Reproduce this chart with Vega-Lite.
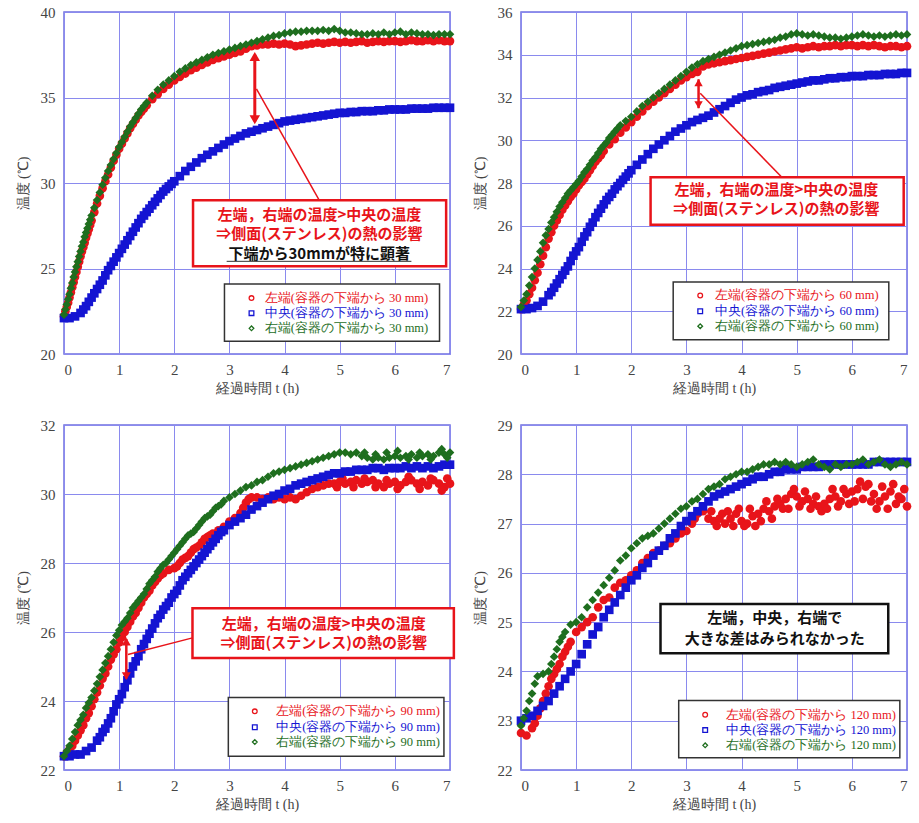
{
"$schema": "https://vega.github.io/schema/vega-lite/v6.json",
"background": "white",
"padding": {"left": 15, "top": 4, "right": 5, "bottom": 5},
"config": {
  "view": {"stroke": "#6f6fe0", "strokeWidth": 1.5},
  "axis": {"grid": true, "gridColor": "#8a8aee", "gridOpacity": 1, "gridWidth": 1, "domain": false, "ticks": false, "labelFont": "Liberation Serif", "labelFontSize": 15, "labelColor": "#444", "titleFont": "Liberation Serif", "titleFontSize": 14, "titleFontWeight": "normal", "titleColor": "#444"},
  "axisX": {"labelPadding": 8, "titlePadding": 4},
  "axisY": {"labelPadding": 9, "titlePadding": 10},
  "text": {"baseline": "middle"}
},
"datasets": {
"p1": [
{"s":"L","t":0,"v":22.2},{"s":"L","t":0.1,"v":23.3},{"s":"L","t":0.2,"v":24.5},{"s":"L","t":0.3,"v":25.7},{"s":"L","t":0.4,"v":26.8},{"s":"L","t":0.5,"v":27.8},{"s":"L","t":0.6,"v":28.8},{"s":"L","t":0.7,"v":29.7},{"s":"L","t":0.8,"v":30.5},{"s":"L","t":0.9,"v":31.3},{"s":"L","t":1,"v":32.0},{"s":"L","t":1.1,"v":32.6},{"s":"L","t":1.2,"v":33.2},{"s":"L","t":1.3,"v":33.7},{"s":"L","t":1.4,"v":34.15},{"s":"L","t":1.5,"v":34.55},{"s":"L","t":1.6,"v":34.9},{"s":"L","t":1.7,"v":35.2},{"s":"L","t":1.8,"v":35.5},{"s":"L","t":1.9,"v":35.75},{"s":"L","t":2,"v":36.0},{"s":"L","t":2.1,"v":36.2},{"s":"L","t":2.2,"v":36.4},{"s":"L","t":2.3,"v":36.6},{"s":"L","t":2.4,"v":36.75},{"s":"L","t":2.5,"v":36.9},{"s":"L","t":2.6,"v":37.05},{"s":"L","t":2.7,"v":37.2},{"s":"L","t":2.8,"v":37.3},{"s":"L","t":2.9,"v":37.4},{"s":"L","t":3,"v":37.5},{"s":"L","t":3.1,"v":37.6},{"s":"L","t":3.2,"v":37.7},{"s":"L","t":3.3,"v":37.85},{"s":"L","t":3.4,"v":38.0},{"s":"L","t":3.5,"v":38.05},{"s":"L","t":3.6,"v":38.1},{"s":"L","t":3.7,"v":38.1},{"s":"L","t":3.8,"v":38.15},{"s":"L","t":3.9,"v":38.1},{"s":"L","t":4,"v":38.15},{"s":"L","t":4.1,"v":38.1},{"s":"L","t":4.2,"v":38.0},{"s":"L","t":4.3,"v":38.05},{"s":"L","t":4.4,"v":38.1},{"s":"L","t":4.5,"v":38.15},{"s":"L","t":4.6,"v":38.2},{"s":"L","t":4.7,"v":38.15},{"s":"L","t":4.8,"v":38.2},{"s":"L","t":4.9,"v":38.25},{"s":"L","t":5,"v":38.2},{"s":"L","t":5.1,"v":38.25},{"s":"L","t":5.2,"v":38.2},{"s":"L","t":5.3,"v":38.25},{"s":"L","t":5.4,"v":38.3},{"s":"L","t":5.5,"v":38.2},{"s":"L","t":5.6,"v":38.25},{"s":"L","t":5.7,"v":38.3},{"s":"L","t":5.8,"v":38.25},{"s":"L","t":5.9,"v":38.3},{"s":"L","t":6,"v":38.3},{"s":"L","t":6.1,"v":38.25},{"s":"L","t":6.2,"v":38.3},{"s":"L","t":6.3,"v":38.35},{"s":"L","t":6.4,"v":38.3},{"s":"L","t":6.5,"v":38.3},{"s":"L","t":6.6,"v":38.35},{"s":"L","t":6.7,"v":38.3},{"s":"L","t":6.8,"v":38.35},{"s":"L","t":6.9,"v":38.3},{"s":"L","t":7,"v":38.3},
{"s":"L","t":0.025,"v":22.5},{"s":"L","t":0.05,"v":22.75},{"s":"L","t":0.075,"v":23.0},{"s":"L","t":0.125,"v":23.6},{"s":"L","t":0.15,"v":23.9},{"s":"L","t":0.175,"v":24.2},{"s":"L","t":0.225,"v":24.8},{"s":"L","t":0.25,"v":25.1},{"s":"L","t":0.275,"v":25.4},{"s":"L","t":0.325,"v":26.0},{"s":"L","t":0.35,"v":26.25},{"s":"L","t":0.375,"v":26.5},{"s":"L","t":0.425,"v":27.05},{"s":"L","t":0.45,"v":27.3},{"s":"L","t":0.475,"v":27.55},{"s":"L","t":0.55,"v":28.3},{"s":"L","t":0.65,"v":29.25},{"s":"L","t":0.75,"v":30.1},{"s":"L","t":0.85,"v":30.9},{"s":"L","t":0.95,"v":31.65},{"s":"L","t":1.05,"v":32.3},{"s":"L","t":1.15,"v":32.9},{"s":"L","t":1.25,"v":33.45},{"s":"L","t":1.35,"v":33.95},{"s":"L","t":1.45,"v":34.35},
{"s":"C","t":0,"v":22.1},{"s":"C","t":0.1,"v":22.1},{"s":"C","t":0.2,"v":22.2},{"s":"C","t":0.3,"v":22.4},{"s":"C","t":0.4,"v":22.8},{"s":"C","t":0.5,"v":23.3},{"s":"C","t":0.6,"v":23.8},{"s":"C","t":0.7,"v":24.3},{"s":"C","t":0.8,"v":24.9},{"s":"C","t":0.9,"v":25.4},{"s":"C","t":1,"v":25.9},{"s":"C","t":1.1,"v":26.4},{"s":"C","t":1.2,"v":26.9},{"s":"C","t":1.3,"v":27.4},{"s":"C","t":1.4,"v":27.9},{"s":"C","t":1.5,"v":28.3},{"s":"C","t":1.6,"v":28.7},{"s":"C","t":1.7,"v":29.1},{"s":"C","t":1.8,"v":29.5},{"s":"C","t":1.9,"v":29.8},{"s":"C","t":2,"v":30.1},{"s":"C","t":2.1,"v":30.4},{"s":"C","t":2.2,"v":30.7},{"s":"C","t":2.3,"v":30.95},{"s":"C","t":2.4,"v":31.2},{"s":"C","t":2.5,"v":31.45},{"s":"C","t":2.6,"v":31.65},{"s":"C","t":2.7,"v":31.85},{"s":"C","t":2.8,"v":32.05},{"s":"C","t":2.9,"v":32.25},{"s":"C","t":3,"v":32.45},{"s":"C","t":3.1,"v":32.6},{"s":"C","t":3.2,"v":32.75},{"s":"C","t":3.3,"v":32.9},{"s":"C","t":3.4,"v":33.0},{"s":"C","t":3.5,"v":33.1},{"s":"C","t":3.6,"v":33.2},{"s":"C","t":3.7,"v":33.3},{"s":"C","t":3.8,"v":33.4},{"s":"C","t":3.9,"v":33.5},{"s":"C","t":4,"v":33.6},{"s":"C","t":4.1,"v":33.65},{"s":"C","t":4.2,"v":33.7},{"s":"C","t":4.3,"v":33.75},{"s":"C","t":4.4,"v":33.8},{"s":"C","t":4.5,"v":33.85},{"s":"C","t":4.6,"v":33.9},{"s":"C","t":4.7,"v":33.95},{"s":"C","t":4.8,"v":34.0},{"s":"C","t":4.9,"v":34.05},{"s":"C","t":5,"v":34.1},{"s":"C","t":5.1,"v":34.1},{"s":"C","t":5.2,"v":34.15},{"s":"C","t":5.3,"v":34.15},{"s":"C","t":5.4,"v":34.2},{"s":"C","t":5.5,"v":34.2},{"s":"C","t":5.6,"v":34.2},{"s":"C","t":5.7,"v":34.25},{"s":"C","t":5.8,"v":34.25},{"s":"C","t":5.9,"v":34.3},{"s":"C","t":6,"v":34.3},{"s":"C","t":6.1,"v":34.3},{"s":"C","t":6.2,"v":34.3},{"s":"C","t":6.3,"v":34.35},{"s":"C","t":6.4,"v":34.35},{"s":"C","t":6.5,"v":34.35},{"s":"C","t":6.6,"v":34.35},{"s":"C","t":6.7,"v":34.4},{"s":"C","t":6.8,"v":34.4},{"s":"C","t":6.9,"v":34.4},{"s":"C","t":7,"v":34.4},
{"s":"C","t":0.35,"v":22.6},{"s":"C","t":0.45,"v":23.05},{"s":"C","t":0.55,"v":23.55},{"s":"C","t":0.65,"v":24.05},{"s":"C","t":0.75,"v":24.6},{"s":"C","t":0.85,"v":25.15},{"s":"C","t":0.95,"v":25.65},{"s":"C","t":1.05,"v":26.15},{"s":"C","t":1.15,"v":26.65},{"s":"C","t":1.25,"v":27.15},{"s":"C","t":1.35,"v":27.65},{"s":"C","t":1.45,"v":28.1},{"s":"C","t":1.55,"v":28.5},{"s":"C","t":1.65,"v":28.9},{"s":"C","t":1.75,"v":29.3},{"s":"C","t":1.85,"v":29.65},{"s":"C","t":1.95,"v":29.95},
{"s":"R","t":0,"v":22.3},{"s":"R","t":0.1,"v":23.5},{"s":"R","t":0.2,"v":24.8},{"s":"R","t":0.3,"v":26.0},{"s":"R","t":0.4,"v":27.1},{"s":"R","t":0.5,"v":28.1},{"s":"R","t":0.6,"v":29.0},{"s":"R","t":0.7,"v":29.9},{"s":"R","t":0.8,"v":30.7},{"s":"R","t":0.9,"v":31.4},{"s":"R","t":1,"v":32.1},{"s":"R","t":1.1,"v":32.7},{"s":"R","t":1.2,"v":33.3},{"s":"R","t":1.3,"v":33.8},{"s":"R","t":1.4,"v":34.3},{"s":"R","t":1.5,"v":34.7},{"s":"R","t":1.6,"v":35.1},{"s":"R","t":1.7,"v":35.45},{"s":"R","t":1.8,"v":35.75},{"s":"R","t":1.9,"v":36.0},{"s":"R","t":2,"v":36.25},{"s":"R","t":2.1,"v":36.5},{"s":"R","t":2.2,"v":36.7},{"s":"R","t":2.3,"v":36.9},{"s":"R","t":2.4,"v":37.05},{"s":"R","t":2.5,"v":37.2},{"s":"R","t":2.6,"v":37.35},{"s":"R","t":2.7,"v":37.5},{"s":"R","t":2.8,"v":37.6},{"s":"R","t":2.9,"v":37.7},{"s":"R","t":3,"v":37.8},{"s":"R","t":3.1,"v":37.9},{"s":"R","t":3.2,"v":38.0},{"s":"R","t":3.3,"v":38.1},{"s":"R","t":3.4,"v":38.2},{"s":"R","t":3.5,"v":38.3},{"s":"R","t":3.6,"v":38.4},{"s":"R","t":3.7,"v":38.5},{"s":"R","t":3.8,"v":38.6},{"s":"R","t":3.9,"v":38.65},{"s":"R","t":4,"v":38.75},{"s":"R","t":4.1,"v":38.8},{"s":"R","t":4.2,"v":38.85},{"s":"R","t":4.3,"v":38.85},{"s":"R","t":4.4,"v":38.9},{"s":"R","t":4.5,"v":38.9},{"s":"R","t":4.6,"v":38.9},{"s":"R","t":4.7,"v":38.95},{"s":"R","t":4.8,"v":38.9},{"s":"R","t":4.9,"v":39.0},{"s":"R","t":5,"v":38.9},{"s":"R","t":5.1,"v":38.8},{"s":"R","t":5.2,"v":38.8},{"s":"R","t":5.3,"v":38.75},{"s":"R","t":5.4,"v":38.7},{"s":"R","t":5.5,"v":38.7},{"s":"R","t":5.6,"v":38.75},{"s":"R","t":5.7,"v":38.7},{"s":"R","t":5.8,"v":38.8},{"s":"R","t":5.9,"v":38.7},{"s":"R","t":6,"v":38.8},{"s":"R","t":6.1,"v":38.85},{"s":"R","t":6.2,"v":38.7},{"s":"R","t":6.3,"v":38.8},{"s":"R","t":6.4,"v":38.75},{"s":"R","t":6.5,"v":38.7},{"s":"R","t":6.6,"v":38.7},{"s":"R","t":6.7,"v":38.65},{"s":"R","t":6.8,"v":38.7},{"s":"R","t":6.9,"v":38.7},{"s":"R","t":7,"v":38.7},
{"s":"R","t":0.025,"v":22.6},{"s":"R","t":0.05,"v":22.9},{"s":"R","t":0.075,"v":23.2},{"s":"R","t":0.125,"v":23.85},{"s":"R","t":0.15,"v":24.15},{"s":"R","t":0.175,"v":24.5},{"s":"R","t":0.225,"v":25.1},{"s":"R","t":0.25,"v":25.4},{"s":"R","t":0.275,"v":25.7},{"s":"R","t":0.325,"v":26.3},{"s":"R","t":0.35,"v":26.55},{"s":"R","t":0.375,"v":26.85},{"s":"R","t":0.425,"v":27.35},{"s":"R","t":0.45,"v":27.6},{"s":"R","t":0.475,"v":27.85},{"s":"R","t":0.55,"v":28.55},{"s":"R","t":0.65,"v":29.45},{"s":"R","t":0.75,"v":30.3},{"s":"R","t":0.85,"v":31.05},{"s":"R","t":0.95,"v":31.75},{"s":"R","t":1.05,"v":32.4},{"s":"R","t":1.15,"v":33.0},{"s":"R","t":1.25,"v":33.55},{"s":"R","t":1.35,"v":34.05},{"s":"R","t":1.45,"v":34.5}
],
"p2": [
{"s":"L","t":0,"v":22.1},{"s":"L","t":0.1,"v":22.5},{"s":"L","t":0.2,"v":23.1},{"s":"L","t":0.3,"v":23.8},{"s":"L","t":0.4,"v":24.6},{"s":"L","t":0.5,"v":25.4},{"s":"L","t":0.6,"v":26.0},{"s":"L","t":0.7,"v":26.5},{"s":"L","t":0.8,"v":26.95},{"s":"L","t":0.9,"v":27.35},{"s":"L","t":1,"v":27.7},{"s":"L","t":1.1,"v":28.05},{"s":"L","t":1.2,"v":28.4},{"s":"L","t":1.3,"v":28.8},{"s":"L","t":1.4,"v":29.15},{"s":"L","t":1.5,"v":29.5},{"s":"L","t":1.6,"v":29.8},{"s":"L","t":1.7,"v":30.05},{"s":"L","t":1.8,"v":30.35},{"s":"L","t":1.9,"v":30.6},{"s":"L","t":2,"v":30.85},{"s":"L","t":2.1,"v":31.1},{"s":"L","t":2.2,"v":31.35},{"s":"L","t":2.3,"v":31.6},{"s":"L","t":2.4,"v":31.8},{"s":"L","t":2.5,"v":32.0},{"s":"L","t":2.6,"v":32.2},{"s":"L","t":2.7,"v":32.4},{"s":"L","t":2.8,"v":32.6},{"s":"L","t":2.9,"v":32.8},{"s":"L","t":3,"v":32.95},{"s":"L","t":3.1,"v":33.1},{"s":"L","t":3.2,"v":33.2},{"s":"L","t":3.3,"v":33.45},{"s":"L","t":3.4,"v":33.55},{"s":"L","t":3.5,"v":33.6},{"s":"L","t":3.6,"v":33.65},{"s":"L","t":3.7,"v":33.7},{"s":"L","t":3.8,"v":33.75},{"s":"L","t":3.9,"v":33.8},{"s":"L","t":4,"v":33.85},{"s":"L","t":4.1,"v":33.9},{"s":"L","t":4.2,"v":33.95},{"s":"L","t":4.3,"v":34.0},{"s":"L","t":4.4,"v":34.05},{"s":"L","t":4.5,"v":34.1},{"s":"L","t":4.6,"v":34.15},{"s":"L","t":4.7,"v":34.2},{"s":"L","t":4.8,"v":34.25},{"s":"L","t":4.9,"v":34.3},{"s":"L","t":5,"v":34.35},{"s":"L","t":5.1,"v":34.3},{"s":"L","t":5.2,"v":34.35},{"s":"L","t":5.3,"v":34.4},{"s":"L","t":5.4,"v":34.35},{"s":"L","t":5.5,"v":34.4},{"s":"L","t":5.6,"v":34.4},{"s":"L","t":5.7,"v":34.45},{"s":"L","t":5.8,"v":34.4},{"s":"L","t":5.9,"v":34.45},{"s":"L","t":6,"v":34.45},{"s":"L","t":6.1,"v":34.4},{"s":"L","t":6.2,"v":34.45},{"s":"L","t":6.3,"v":34.4},{"s":"L","t":6.4,"v":34.45},{"s":"L","t":6.5,"v":34.4},{"s":"L","t":6.6,"v":34.35},{"s":"L","t":6.7,"v":34.4},{"s":"L","t":6.8,"v":34.4},{"s":"L","t":6.9,"v":34.35},{"s":"L","t":7,"v":34.4},
{"s":"L","t":0.05,"v":22.3},{"s":"L","t":0.15,"v":22.8},{"s":"L","t":0.25,"v":23.45},{"s":"L","t":0.35,"v":24.2},{"s":"L","t":0.45,"v":25.0},{"s":"L","t":0.55,"v":25.7},{"s":"L","t":0.65,"v":26.25},{"s":"L","t":0.75,"v":26.75},{"s":"L","t":0.85,"v":27.15},{"s":"L","t":0.95,"v":27.5},{"s":"L","t":1.05,"v":27.9},{"s":"L","t":1.15,"v":28.2},{"s":"L","t":1.25,"v":28.6},{"s":"L","t":1.35,"v":29.0},{"s":"L","t":1.45,"v":29.3},
{"s":"C","t":0,"v":22.1},{"s":"C","t":0.1,"v":22.1},{"s":"C","t":0.2,"v":22.15},{"s":"C","t":0.3,"v":22.25},{"s":"C","t":0.4,"v":22.45},{"s":"C","t":0.5,"v":22.75},{"s":"C","t":0.6,"v":23.1},{"s":"C","t":0.7,"v":23.5},{"s":"C","t":0.8,"v":23.9},{"s":"C","t":0.9,"v":24.35},{"s":"C","t":1,"v":24.8},{"s":"C","t":1.1,"v":25.25},{"s":"C","t":1.2,"v":25.7},{"s":"C","t":1.3,"v":26.15},{"s":"C","t":1.4,"v":26.6},{"s":"C","t":1.5,"v":27.0},{"s":"C","t":1.6,"v":27.35},{"s":"C","t":1.7,"v":27.7},{"s":"C","t":1.8,"v":28.0},{"s":"C","t":1.9,"v":28.3},{"s":"C","t":2,"v":28.6},{"s":"C","t":2.1,"v":28.85},{"s":"C","t":2.2,"v":29.1},{"s":"C","t":2.3,"v":29.35},{"s":"C","t":2.4,"v":29.6},{"s":"C","t":2.5,"v":29.8},{"s":"C","t":2.6,"v":30.0},{"s":"C","t":2.7,"v":30.2},{"s":"C","t":2.8,"v":30.4},{"s":"C","t":2.9,"v":30.55},{"s":"C","t":3,"v":30.7},{"s":"C","t":3.1,"v":30.85},{"s":"C","t":3.2,"v":30.95},{"s":"C","t":3.3,"v":31.05},{"s":"C","t":3.4,"v":31.15},{"s":"C","t":3.5,"v":31.3},{"s":"C","t":3.6,"v":31.45},{"s":"C","t":3.7,"v":31.6},{"s":"C","t":3.8,"v":31.75},{"s":"C","t":3.9,"v":31.9},{"s":"C","t":4,"v":32.0},{"s":"C","t":4.1,"v":32.1},{"s":"C","t":4.2,"v":32.15},{"s":"C","t":4.3,"v":32.25},{"s":"C","t":4.4,"v":32.3},{"s":"C","t":4.5,"v":32.35},{"s":"C","t":4.6,"v":32.45},{"s":"C","t":4.7,"v":32.5},{"s":"C","t":4.8,"v":32.55},{"s":"C","t":4.9,"v":32.6},{"s":"C","t":5,"v":32.65},{"s":"C","t":5.1,"v":32.7},{"s":"C","t":5.2,"v":32.75},{"s":"C","t":5.3,"v":32.8},{"s":"C","t":5.4,"v":32.8},{"s":"C","t":5.5,"v":32.85},{"s":"C","t":5.6,"v":32.9},{"s":"C","t":5.7,"v":32.9},{"s":"C","t":5.8,"v":32.95},{"s":"C","t":5.9,"v":32.95},{"s":"C","t":6,"v":33.0},{"s":"C","t":6.1,"v":33.0},{"s":"C","t":6.2,"v":33.0},{"s":"C","t":6.3,"v":33.05},{"s":"C","t":6.4,"v":33.05},{"s":"C","t":6.5,"v":33.05},{"s":"C","t":6.6,"v":33.1},{"s":"C","t":6.7,"v":33.1},{"s":"C","t":6.8,"v":33.1},{"s":"C","t":6.9,"v":33.15},{"s":"C","t":7,"v":33.15},
{"s":"C","t":0.55,"v":22.9},{"s":"C","t":0.65,"v":23.3},{"s":"C","t":0.75,"v":23.7},{"s":"C","t":0.85,"v":24.1},{"s":"C","t":0.95,"v":24.6},{"s":"C","t":1.05,"v":25.0},{"s":"C","t":1.15,"v":25.5},{"s":"C","t":1.25,"v":25.95},{"s":"C","t":1.35,"v":26.4},{"s":"C","t":1.45,"v":26.8},{"s":"C","t":1.55,"v":27.2},{"s":"C","t":1.65,"v":27.5},{"s":"C","t":1.75,"v":27.85},{"s":"C","t":1.85,"v":28.15},{"s":"C","t":1.95,"v":28.45},
{"s":"R","t":0,"v":22.2},{"s":"R","t":0.1,"v":22.8},{"s":"R","t":0.2,"v":23.6},{"s":"R","t":0.3,"v":24.4},{"s":"R","t":0.4,"v":25.2},{"s":"R","t":0.5,"v":25.85},{"s":"R","t":0.6,"v":26.4},{"s":"R","t":0.7,"v":26.9},{"s":"R","t":0.8,"v":27.3},{"s":"R","t":0.9,"v":27.65},{"s":"R","t":1,"v":27.95},{"s":"R","t":1.1,"v":28.3},{"s":"R","t":1.2,"v":28.65},{"s":"R","t":1.3,"v":29.05},{"s":"R","t":1.4,"v":29.4},{"s":"R","t":1.5,"v":29.75},{"s":"R","t":1.6,"v":30.1},{"s":"R","t":1.7,"v":30.4},{"s":"R","t":1.8,"v":30.7},{"s":"R","t":1.9,"v":30.9},{"s":"R","t":2,"v":31.1},{"s":"R","t":2.1,"v":31.35},{"s":"R","t":2.2,"v":31.6},{"s":"R","t":2.3,"v":31.8},{"s":"R","t":2.4,"v":32.0},{"s":"R","t":2.5,"v":32.2},{"s":"R","t":2.6,"v":32.4},{"s":"R","t":2.7,"v":32.6},{"s":"R","t":2.8,"v":32.8},{"s":"R","t":2.9,"v":33.0},{"s":"R","t":3,"v":33.2},{"s":"R","t":3.1,"v":33.4},{"s":"R","t":3.2,"v":33.55},{"s":"R","t":3.3,"v":33.7},{"s":"R","t":3.4,"v":33.8},{"s":"R","t":3.5,"v":33.9},{"s":"R","t":3.6,"v":34.0},{"s":"R","t":3.7,"v":34.1},{"s":"R","t":3.8,"v":34.2},{"s":"R","t":3.9,"v":34.3},{"s":"R","t":4,"v":34.4},{"s":"R","t":4.1,"v":34.45},{"s":"R","t":4.2,"v":34.5},{"s":"R","t":4.3,"v":34.55},{"s":"R","t":4.4,"v":34.6},{"s":"R","t":4.5,"v":34.65},{"s":"R","t":4.6,"v":34.7},{"s":"R","t":4.7,"v":34.8},{"s":"R","t":4.8,"v":34.85},{"s":"R","t":4.9,"v":34.95},{"s":"R","t":5,"v":35.0},{"s":"R","t":5.1,"v":34.95},{"s":"R","t":5.2,"v":34.9},{"s":"R","t":5.3,"v":34.95},{"s":"R","t":5.4,"v":34.9},{"s":"R","t":5.5,"v":34.85},{"s":"R","t":5.6,"v":34.8},{"s":"R","t":5.7,"v":34.8},{"s":"R","t":5.8,"v":34.75},{"s":"R","t":5.9,"v":34.8},{"s":"R","t":6,"v":34.85},{"s":"R","t":6.1,"v":34.9},{"s":"R","t":6.2,"v":34.95},{"s":"R","t":6.3,"v":34.9},{"s":"R","t":6.4,"v":34.85},{"s":"R","t":6.5,"v":34.9},{"s":"R","t":6.6,"v":34.85},{"s":"R","t":6.7,"v":34.9},{"s":"R","t":6.8,"v":34.95},{"s":"R","t":6.9,"v":34.9},{"s":"R","t":7,"v":34.95},
{"s":"R","t":0.05,"v":22.5},{"s":"R","t":0.15,"v":23.2},{"s":"R","t":0.25,"v":24.0},{"s":"R","t":0.35,"v":24.8},{"s":"R","t":0.45,"v":25.55},{"s":"R","t":0.55,"v":26.15},{"s":"R","t":0.65,"v":26.65},{"s":"R","t":0.75,"v":27.1},{"s":"R","t":0.85,"v":27.5},{"s":"R","t":0.95,"v":27.8},{"s":"R","t":1.05,"v":28.1},{"s":"R","t":1.15,"v":28.5},{"s":"R","t":1.25,"v":28.85},{"s":"R","t":1.35,"v":29.2},{"s":"R","t":1.45,"v":29.6},{"s":"R","t":1.55,"v":29.9},{"s":"R","t":1.65,"v":30.25},{"s":"R","t":1.75,"v":30.55}
],
"p3": [
{"s":"L","t":0,"v":22.4},{"s":"L","t":0.1,"v":22.6},{"s":"L","t":0.2,"v":22.85},{"s":"L","t":0.3,"v":23.15},{"s":"L","t":0.4,"v":23.5},{"s":"L","t":0.5,"v":23.85},{"s":"L","t":0.6,"v":24.25},{"s":"L","t":0.7,"v":24.65},{"s":"L","t":0.8,"v":25.0},{"s":"L","t":0.9,"v":25.35},{"s":"L","t":1,"v":25.7},{"s":"L","t":1.1,"v":26.0},{"s":"L","t":1.2,"v":26.3},{"s":"L","t":1.3,"v":26.55},{"s":"L","t":1.4,"v":26.85},{"s":"L","t":1.5,"v":27.1},{"s":"L","t":1.6,"v":27.35},{"s":"L","t":1.7,"v":27.55},{"s":"L","t":1.8,"v":27.7},{"s":"L","t":1.9,"v":27.8},{"s":"L","t":2,"v":27.85},{"s":"L","t":2.1,"v":28.0},{"s":"L","t":2.2,"v":28.15},{"s":"L","t":2.3,"v":28.3},{"s":"L","t":2.4,"v":28.45},{"s":"L","t":2.5,"v":28.6},{"s":"L","t":2.6,"v":28.75},{"s":"L","t":2.7,"v":28.85},{"s":"L","t":2.8,"v":28.95},{"s":"L","t":2.9,"v":29.05},{"s":"L","t":3,"v":29.2},{"s":"L","t":3.1,"v":29.3},{"s":"L","t":3.2,"v":29.45},{"s":"L","t":3.3,"v":29.75},{"s":"L","t":3.4,"v":29.9},{"s":"L","t":3.5,"v":29.9},{"s":"L","t":3.6,"v":29.85},{"s":"L","t":3.7,"v":29.9},{"s":"L","t":3.8,"v":29.85},{"s":"L","t":3.9,"v":29.9},{"s":"L","t":4,"v":29.85},{"s":"L","t":4.1,"v":29.9},{"s":"L","t":4.2,"v":29.85},{"s":"L","t":4.3,"v":29.95},{"s":"L","t":4.4,"v":30.05},{"s":"L","t":4.5,"v":30.15},{"s":"L","t":4.6,"v":30.2},{"s":"L","t":4.7,"v":30.25},{"s":"L","t":4.8,"v":30.3},{"s":"L","t":4.9,"v":30.3},{"s":"L","t":5,"v":30.35},{"s":"L","t":5.1,"v":30.3},{"s":"L","t":5.2,"v":30.35},{"s":"L","t":5.3,"v":30.4},{"s":"L","t":5.4,"v":30.3},{"s":"L","t":5.5,"v":30.35},{"s":"L","t":5.6,"v":30.4},{"s":"L","t":5.7,"v":30.3},{"s":"L","t":5.8,"v":30.2},{"s":"L","t":5.9,"v":30.3},{"s":"L","t":6,"v":30.35},{"s":"L","t":6.1,"v":30.25},{"s":"L","t":6.2,"v":30.35},{"s":"L","t":6.3,"v":30.4},{"s":"L","t":6.4,"v":30.3},{"s":"L","t":6.5,"v":30.35},{"s":"L","t":6.6,"v":30.25},{"s":"L","t":6.7,"v":30.4},{"s":"L","t":6.8,"v":30.3},{"s":"L","t":6.9,"v":30.2},{"s":"L","t":7,"v":30.3},
{"s":"L","t":0.05,"v":22.5},{"s":"L","t":0.15,"v":22.7},{"s":"L","t":0.25,"v":23.0},{"s":"L","t":0.35,"v":23.3},{"s":"L","t":0.45,"v":23.65},{"s":"L","t":0.55,"v":24.05},{"s":"L","t":0.65,"v":24.45},{"s":"L","t":0.75,"v":24.8},{"s":"L","t":0.85,"v":25.2},{"s":"L","t":0.95,"v":25.5},{"s":"L","t":1.05,"v":25.85},{"s":"L","t":1.15,"v":26.15},{"s":"L","t":1.25,"v":26.45},{"s":"L","t":1.35,"v":26.7},{"s":"L","t":1.45,"v":27.0},{"s":"L","t":1.55,"v":27.2},{"s":"L","t":1.65,"v":27.45},{"s":"L","t":1.75,"v":27.65},{"s":"L","t":2.05,"v":27.9},{"s":"L","t":2.15,"v":28.1},{"s":"L","t":2.25,"v":28.2},{"s":"L","t":2.35,"v":28.4},{"s":"L","t":2.45,"v":28.5},{"s":"L","t":2.55,"v":28.7},{"s":"L","t":2.65,"v":28.8},{"s":"L","t":3.25,"v":29.6},{"s":"L","t":3.35,"v":29.85},
{"s":"L","t":4.95,"v":30.2},{"s":"L","t":5.05,"v":30.45},{"s":"L","t":5.25,"v":30.2},{"s":"L","t":5.45,"v":30.45},{"s":"L","t":5.65,"v":30.2},{"s":"L","t":5.85,"v":30.4},{"s":"L","t":6.05,"v":30.15},{"s":"L","t":6.25,"v":30.5},{"s":"L","t":6.45,"v":30.15},{"s":"L","t":6.65,"v":30.45},{"s":"L","t":6.85,"v":30.1},{"s":"L","t":6.95,"v":30.45},
{"s":"C","t":0,"v":22.4},{"s":"C","t":0.1,"v":22.4},{"s":"C","t":0.2,"v":22.45},{"s":"C","t":0.3,"v":22.45},{"s":"C","t":0.4,"v":22.55},{"s":"C","t":0.5,"v":22.65},{"s":"C","t":0.6,"v":22.85},{"s":"C","t":0.7,"v":23.1},{"s":"C","t":0.8,"v":23.35},{"s":"C","t":0.9,"v":23.7},{"s":"C","t":1,"v":24.05},{"s":"C","t":1.1,"v":24.4},{"s":"C","t":1.2,"v":24.8},{"s":"C","t":1.3,"v":25.15},{"s":"C","t":1.4,"v":25.5},{"s":"C","t":1.5,"v":25.8},{"s":"C","t":1.6,"v":26.1},{"s":"C","t":1.7,"v":26.4},{"s":"C","t":1.8,"v":26.65},{"s":"C","t":1.9,"v":26.85},{"s":"C","t":2,"v":27.1},{"s":"C","t":2.1,"v":27.35},{"s":"C","t":2.2,"v":27.6},{"s":"C","t":2.3,"v":27.8},{"s":"C","t":2.4,"v":28.0},{"s":"C","t":2.5,"v":28.2},{"s":"C","t":2.6,"v":28.4},{"s":"C","t":2.7,"v":28.6},{"s":"C","t":2.8,"v":28.8},{"s":"C","t":2.9,"v":28.95},{"s":"C","t":3,"v":29.1},{"s":"C","t":3.1,"v":29.2},{"s":"C","t":3.2,"v":29.3},{"s":"C","t":3.3,"v":29.4},{"s":"C","t":3.4,"v":29.55},{"s":"C","t":3.5,"v":29.65},{"s":"C","t":3.6,"v":29.75},{"s":"C","t":3.7,"v":29.85},{"s":"C","t":3.8,"v":29.95},{"s":"C","t":3.9,"v":30.0},{"s":"C","t":4,"v":30.1},{"s":"C","t":4.1,"v":30.15},{"s":"C","t":4.2,"v":30.25},{"s":"C","t":4.3,"v":30.3},{"s":"C","t":4.4,"v":30.35},{"s":"C","t":4.5,"v":30.4},{"s":"C","t":4.6,"v":30.45},{"s":"C","t":4.7,"v":30.5},{"s":"C","t":4.8,"v":30.55},{"s":"C","t":4.9,"v":30.6},{"s":"C","t":5,"v":30.6},{"s":"C","t":5.1,"v":30.65},{"s":"C","t":5.2,"v":30.65},{"s":"C","t":5.3,"v":30.7},{"s":"C","t":5.4,"v":30.7},{"s":"C","t":5.5,"v":30.7},{"s":"C","t":5.6,"v":30.75},{"s":"C","t":5.7,"v":30.75},{"s":"C","t":5.8,"v":30.7},{"s":"C","t":5.9,"v":30.75},{"s":"C","t":6,"v":30.75},{"s":"C","t":6.1,"v":30.75},{"s":"C","t":6.2,"v":30.8},{"s":"C","t":6.3,"v":30.75},{"s":"C","t":6.4,"v":30.8},{"s":"C","t":6.5,"v":30.75},{"s":"C","t":6.6,"v":30.8},{"s":"C","t":6.7,"v":30.75},{"s":"C","t":6.8,"v":30.8},{"s":"C","t":6.9,"v":30.85},{"s":"C","t":7,"v":30.85},
{"s":"C","t":0.65,"v":22.95},{"s":"C","t":0.75,"v":23.2},{"s":"C","t":0.85,"v":23.5},{"s":"C","t":0.95,"v":23.9},{"s":"C","t":1.05,"v":24.2},{"s":"C","t":1.15,"v":24.6},{"s":"C","t":1.25,"v":25.0},{"s":"C","t":1.35,"v":25.3},{"s":"C","t":1.45,"v":25.65},{"s":"C","t":1.55,"v":25.95},{"s":"C","t":1.65,"v":26.25},{"s":"C","t":1.75,"v":26.5},{"s":"C","t":1.85,"v":26.75},{"s":"C","t":1.95,"v":27.0},{"s":"C","t":2.05,"v":27.2},{"s":"C","t":2.15,"v":27.5},{"s":"C","t":2.25,"v":27.7},{"s":"C","t":2.35,"v":27.9},{"s":"C","t":2.45,"v":28.1},{"s":"C","t":2.55,"v":28.3},{"s":"C","t":2.65,"v":28.5},{"s":"C","t":2.75,"v":28.7},{"s":"C","t":2.85,"v":28.9},
{"s":"R","t":0,"v":22.4},{"s":"R","t":0.1,"v":22.7},{"s":"R","t":0.2,"v":23.1},{"s":"R","t":0.3,"v":23.45},{"s":"R","t":0.4,"v":23.8},{"s":"R","t":0.5,"v":24.1},{"s":"R","t":0.6,"v":24.5},{"s":"R","t":0.7,"v":24.9},{"s":"R","t":0.8,"v":25.3},{"s":"R","t":0.9,"v":25.7},{"s":"R","t":1,"v":26.05},{"s":"R","t":1.1,"v":26.3},{"s":"R","t":1.2,"v":26.55},{"s":"R","t":1.3,"v":26.8},{"s":"R","t":1.4,"v":27.0},{"s":"R","t":1.5,"v":27.25},{"s":"R","t":1.6,"v":27.5},{"s":"R","t":1.7,"v":27.75},{"s":"R","t":1.8,"v":27.95},{"s":"R","t":1.9,"v":28.1},{"s":"R","t":2,"v":28.3},{"s":"R","t":2.1,"v":28.5},{"s":"R","t":2.2,"v":28.7},{"s":"R","t":2.3,"v":28.85},{"s":"R","t":2.4,"v":29.0},{"s":"R","t":2.5,"v":29.2},{"s":"R","t":2.6,"v":29.35},{"s":"R","t":2.7,"v":29.5},{"s":"R","t":2.8,"v":29.65},{"s":"R","t":2.9,"v":29.8},{"s":"R","t":3,"v":29.9},{"s":"R","t":3.1,"v":30.0},{"s":"R","t":3.2,"v":30.1},{"s":"R","t":3.3,"v":30.2},{"s":"R","t":3.4,"v":30.25},{"s":"R","t":3.5,"v":30.35},{"s":"R","t":3.6,"v":30.4},{"s":"R","t":3.7,"v":30.5},{"s":"R","t":3.8,"v":30.6},{"s":"R","t":3.9,"v":30.65},{"s":"R","t":4,"v":30.7},{"s":"R","t":4.1,"v":30.75},{"s":"R","t":4.2,"v":30.8},{"s":"R","t":4.3,"v":30.85},{"s":"R","t":4.4,"v":30.9},{"s":"R","t":4.5,"v":30.95},{"s":"R","t":4.6,"v":31.0},{"s":"R","t":4.7,"v":31.05},{"s":"R","t":4.8,"v":31.1},{"s":"R","t":4.9,"v":31.15},{"s":"R","t":5,"v":31.2},{"s":"R","t":5.1,"v":31.2},{"s":"R","t":5.2,"v":31.15},{"s":"R","t":5.3,"v":31.2},{"s":"R","t":5.4,"v":31.1},{"s":"R","t":5.5,"v":31.05},{"s":"R","t":5.6,"v":31.0},{"s":"R","t":5.7,"v":31.05},{"s":"R","t":5.8,"v":31.0},{"s":"R","t":5.9,"v":31.05},{"s":"R","t":6,"v":31.1},{"s":"R","t":6.1,"v":31.05},{"s":"R","t":6.2,"v":31.1},{"s":"R","t":6.3,"v":31.15},{"s":"R","t":6.4,"v":31.05},{"s":"R","t":6.5,"v":31.1},{"s":"R","t":6.6,"v":31.15},{"s":"R","t":6.7,"v":31.1},{"s":"R","t":6.8,"v":31.2},{"s":"R","t":6.9,"v":31.15},{"s":"R","t":7,"v":31.2},
{"s":"R","t":0.05,"v":22.55},{"s":"R","t":0.15,"v":22.9},{"s":"R","t":0.25,"v":23.3},{"s":"R","t":0.35,"v":23.6},{"s":"R","t":0.45,"v":23.95},{"s":"R","t":0.55,"v":24.3},{"s":"R","t":0.65,"v":24.7},{"s":"R","t":0.75,"v":25.1},{"s":"R","t":0.85,"v":25.5},{"s":"R","t":0.95,"v":25.9},{"s":"R","t":1.05,"v":26.2},{"s":"R","t":1.15,"v":26.4},{"s":"R","t":1.25,"v":26.7},{"s":"R","t":1.35,"v":26.9},{"s":"R","t":1.45,"v":27.1},{"s":"R","t":1.55,"v":27.4},{"s":"R","t":1.65,"v":27.6},{"s":"R","t":1.75,"v":27.85},{"s":"R","t":1.85,"v":28.0},{"s":"R","t":1.95,"v":28.2},{"s":"R","t":2.05,"v":28.4},{"s":"R","t":2.15,"v":28.6},{"s":"R","t":2.25,"v":28.8},{"s":"R","t":2.35,"v":28.9},{"s":"R","t":2.45,"v":29.1},{"s":"R","t":2.55,"v":29.3},{"s":"R","t":2.65,"v":29.4},{"s":"R","t":2.75,"v":29.6},{"s":"R","t":2.85,"v":29.7},
{"s":"R","t":5.45,"v":31.2},{"s":"R","t":5.65,"v":31.15},{"s":"R","t":5.85,"v":31.2},{"s":"R","t":6.05,"v":31.25},{"s":"R","t":6.25,"v":31.0},{"s":"R","t":6.45,"v":31.2},{"s":"R","t":6.65,"v":31.0},{"s":"R","t":6.85,"v":31.3},{"s":"R","t":6.95,"v":31.05}
],
"p4": [
{"s":"L","t":0,"v":22.75},{"s":"L","t":0.1,"v":22.7},{"s":"L","t":0.2,"v":22.85},{"s":"L","t":0.3,"v":23.1},{"s":"L","t":0.4,"v":23.4},{"s":"L","t":0.5,"v":23.7},{"s":"L","t":0.6,"v":23.95},{"s":"L","t":0.7,"v":24.15},{"s":"L","t":0.8,"v":24.4},{"s":"L","t":0.9,"v":24.6},{"s":"L","t":1,"v":24.8},{"s":"L","t":1.1,"v":24.9},{"s":"L","t":1.2,"v":25.0},{"s":"L","t":1.3,"v":25.1},{"s":"L","t":1.4,"v":25.3},{"s":"L","t":1.5,"v":25.45},{"s":"L","t":1.6,"v":25.5},{"s":"L","t":1.7,"v":25.7},{"s":"L","t":1.8,"v":25.8},{"s":"L","t":1.9,"v":25.85},{"s":"L","t":2,"v":25.95},{"s":"L","t":2.1,"v":26.05},{"s":"L","t":2.2,"v":26.2},{"s":"L","t":2.3,"v":26.3},{"s":"L","t":2.4,"v":26.4},{"s":"L","t":2.5,"v":26.45},{"s":"L","t":2.6,"v":26.55},{"s":"L","t":2.7,"v":26.6},{"s":"L","t":2.8,"v":26.7},{"s":"L","t":2.9,"v":26.8},{"s":"L","t":3,"v":26.85},{"s":"L","t":3.1,"v":27.0},{"s":"L","t":3.2,"v":27.2},{"s":"L","t":3.3,"v":27.25},{"s":"L","t":3.4,"v":27.1},{"s":"L","t":3.5,"v":27.05},{"s":"L","t":3.6,"v":27.1},{"s":"L","t":3.7,"v":27.0},{"s":"L","t":3.8,"v":27.1},{"s":"L","t":3.9,"v":27.2},{"s":"L","t":4,"v":27.05},{"s":"L","t":4.1,"v":27.0},{"s":"L","t":4.2,"v":27.15},{"s":"L","t":4.3,"v":27.2},{"s":"L","t":4.4,"v":27.3},{"s":"L","t":4.5,"v":27.25},{"s":"L","t":4.6,"v":27.35},{"s":"L","t":4.7,"v":27.4},{"s":"L","t":4.8,"v":27.5},{"s":"L","t":4.9,"v":27.6},{"s":"L","t":5,"v":27.55},{"s":"L","t":5.1,"v":27.45},{"s":"L","t":5.2,"v":27.5},{"s":"L","t":5.3,"v":27.4},{"s":"L","t":5.4,"v":27.35},{"s":"L","t":5.5,"v":27.4},{"s":"L","t":5.6,"v":27.5},{"s":"L","t":5.7,"v":27.55},{"s":"L","t":5.8,"v":27.45},{"s":"L","t":5.9,"v":27.6},{"s":"L","t":6,"v":27.65},{"s":"L","t":6.1,"v":27.7},{"s":"L","t":6.2,"v":27.5},{"s":"L","t":6.3,"v":27.8},{"s":"L","t":6.4,"v":27.6},{"s":"L","t":6.5,"v":27.45},{"s":"L","t":6.6,"v":27.55},{"s":"L","t":6.7,"v":27.65},{"s":"L","t":6.8,"v":27.4},{"s":"L","t":6.9,"v":27.5},{"s":"L","t":7,"v":27.35},
{"s":"L","t":0.25,"v":22.95},{"s":"L","t":0.35,"v":23.25},{"s":"L","t":0.45,"v":23.55},{"s":"L","t":0.55,"v":23.85},{"s":"L","t":0.65,"v":24.05},{"s":"L","t":0.75,"v":24.3},{"s":"L","t":0.85,"v":24.5},{"s":"L","t":3.15,"v":27.1},{"s":"L","t":4.05,"v":26.95},{"s":"L","t":4.75,"v":27.3},{"s":"L","t":5.65,"v":27.7},{"s":"L","t":6.25,"v":27.75},{"s":"L","t":6.45,"v":27.3},
{"s":"L","t":3.45,"v":27.25},{"s":"L","t":3.55,"v":26.95},{"s":"L","t":3.65,"v":27.2},{"s":"L","t":3.75,"v":27.25},{"s":"L","t":3.85,"v":26.95},{"s":"L","t":3.95,"v":27.3},{"s":"L","t":4.15,"v":27.3},{"s":"L","t":4.25,"v":26.95},{"s":"L","t":4.35,"v":27.05},{"s":"L","t":4.45,"v":27.45},{"s":"L","t":4.55,"v":27.1},{"s":"L","t":4.65,"v":27.5},{"s":"L","t":4.85,"v":27.3},{"s":"L","t":4.95,"v":27.7},{"s":"L","t":5.05,"v":27.35},{"s":"L","t":5.15,"v":27.65},{"s":"L","t":5.25,"v":27.3},{"s":"L","t":5.35,"v":27.55},{"s":"L","t":5.45,"v":27.25},{"s":"L","t":5.55,"v":27.3},{"s":"L","t":5.75,"v":27.35},{"s":"L","t":5.85,"v":27.7},{"s":"L","t":5.95,"v":27.4},{"s":"L","t":6.05,"v":27.45},{"s":"L","t":6.15,"v":27.85},{"s":"L","t":6.35,"v":27.45},{"s":"L","t":6.55,"v":27.75},{"s":"L","t":6.65,"v":27.3},{"s":"L","t":6.75,"v":27.8},{"s":"L","t":6.85,"v":27.55},{"s":"L","t":6.95,"v":27.7},
{"s":"C","t":0,"v":23.0},{"s":"C","t":0.1,"v":23.05},{"s":"C","t":0.2,"v":23.1},{"s":"C","t":0.3,"v":23.2},{"s":"C","t":0.4,"v":23.3},{"s":"C","t":0.5,"v":23.4},{"s":"C","t":0.6,"v":23.55},{"s":"C","t":0.7,"v":23.7},{"s":"C","t":0.8,"v":23.85},{"s":"C","t":0.9,"v":24.0},{"s":"C","t":1,"v":24.15},{"s":"C","t":1.1,"v":24.35},{"s":"C","t":1.2,"v":24.55},{"s":"C","t":1.3,"v":24.75},{"s":"C","t":1.4,"v":24.9},{"s":"C","t":1.5,"v":25.1},{"s":"C","t":1.6,"v":25.25},{"s":"C","t":1.7,"v":25.4},{"s":"C","t":1.8,"v":25.55},{"s":"C","t":1.9,"v":25.7},{"s":"C","t":2,"v":25.85},{"s":"C","t":2.1,"v":25.95},{"s":"C","t":2.2,"v":26.1},{"s":"C","t":2.3,"v":26.2},{"s":"C","t":2.4,"v":26.35},{"s":"C","t":2.5,"v":26.45},{"s":"C","t":2.6,"v":26.55},{"s":"C","t":2.7,"v":26.7},{"s":"C","t":2.8,"v":26.8},{"s":"C","t":2.9,"v":26.95},{"s":"C","t":3,"v":27.05},{"s":"C","t":3.1,"v":27.15},{"s":"C","t":3.2,"v":27.25},{"s":"C","t":3.3,"v":27.35},{"s":"C","t":3.4,"v":27.45},{"s":"C","t":3.5,"v":27.55},{"s":"C","t":3.6,"v":27.6},{"s":"C","t":3.7,"v":27.65},{"s":"C","t":3.8,"v":27.7},{"s":"C","t":3.9,"v":27.75},{"s":"C","t":4,"v":27.8},{"s":"C","t":4.1,"v":27.85},{"s":"C","t":4.2,"v":27.9},{"s":"C","t":4.3,"v":27.95},{"s":"C","t":4.4,"v":27.95},{"s":"C","t":4.5,"v":28.0},{"s":"C","t":4.6,"v":28.05},{"s":"C","t":4.7,"v":28.05},{"s":"C","t":4.8,"v":28.1},{"s":"C","t":4.9,"v":28.1},{"s":"C","t":5,"v":28.1},{"s":"C","t":5.1,"v":28.15},{"s":"C","t":5.2,"v":28.15},{"s":"C","t":5.3,"v":28.15},{"s":"C","t":5.4,"v":28.15},{"s":"C","t":5.5,"v":28.2},{"s":"C","t":5.6,"v":28.2},{"s":"C","t":5.7,"v":28.2},{"s":"C","t":5.8,"v":28.2},{"s":"C","t":5.9,"v":28.2},{"s":"C","t":6,"v":28.2},{"s":"C","t":6.1,"v":28.2},{"s":"C","t":6.2,"v":28.2},{"s":"C","t":6.3,"v":28.2},{"s":"C","t":6.4,"v":28.25},{"s":"C","t":6.5,"v":28.25},{"s":"C","t":6.6,"v":28.25},{"s":"C","t":6.7,"v":28.25},{"s":"C","t":6.8,"v":28.25},{"s":"C","t":6.9,"v":28.25},{"s":"C","t":7,"v":28.25},
{"s":"R","t":0,"v":22.9},{"s":"R","t":0.1,"v":23.2},{"s":"R","t":0.2,"v":23.55},{"s":"R","t":0.3,"v":23.9},{"s":"R","t":0.4,"v":23.95},{"s":"R","t":0.5,"v":24.0},{"s":"R","t":0.6,"v":24.3},{"s":"R","t":0.7,"v":24.6},{"s":"R","t":0.8,"v":24.8},{"s":"R","t":0.9,"v":24.95},{"s":"R","t":1,"v":25.0},{"s":"R","t":1.1,"v":25.1},{"s":"R","t":1.2,"v":25.3},{"s":"R","t":1.3,"v":25.45},{"s":"R","t":1.4,"v":25.6},{"s":"R","t":1.5,"v":25.75},{"s":"R","t":1.6,"v":25.9},{"s":"R","t":1.7,"v":26.05},{"s":"R","t":1.8,"v":26.25},{"s":"R","t":1.9,"v":26.35},{"s":"R","t":2,"v":26.5},{"s":"R","t":2.1,"v":26.6},{"s":"R","t":2.2,"v":26.7},{"s":"R","t":2.3,"v":26.75},{"s":"R","t":2.4,"v":26.8},{"s":"R","t":2.5,"v":26.9},{"s":"R","t":2.6,"v":27.0},{"s":"R","t":2.7,"v":27.1},{"s":"R","t":2.8,"v":27.2},{"s":"R","t":2.9,"v":27.3},{"s":"R","t":3,"v":27.35},{"s":"R","t":3.1,"v":27.45},{"s":"R","t":3.2,"v":27.5},{"s":"R","t":3.3,"v":27.6},{"s":"R","t":3.4,"v":27.7},{"s":"R","t":3.5,"v":27.75},{"s":"R","t":3.6,"v":27.8},{"s":"R","t":3.7,"v":27.9},{"s":"R","t":3.8,"v":27.95},{"s":"R","t":3.9,"v":28.0},{"s":"R","t":4,"v":28.05},{"s":"R","t":4.1,"v":28.05},{"s":"R","t":4.2,"v":28.1},{"s":"R","t":4.3,"v":28.15},{"s":"R","t":4.4,"v":28.2},{"s":"R","t":4.5,"v":28.2},{"s":"R","t":4.6,"v":28.25},{"s":"R","t":4.7,"v":28.2},{"s":"R","t":4.8,"v":28.25},{"s":"R","t":4.9,"v":28.2},{"s":"R","t":5,"v":28.15},{"s":"R","t":5.1,"v":28.2},{"s":"R","t":5.2,"v":28.25},{"s":"R","t":5.3,"v":28.3},{"s":"R","t":5.4,"v":28.2},{"s":"R","t":5.5,"v":28.15},{"s":"R","t":5.6,"v":28.1},{"s":"R","t":5.7,"v":28.2},{"s":"R","t":5.8,"v":28.15},{"s":"R","t":5.9,"v":28.2},{"s":"R","t":6,"v":28.2},{"s":"R","t":6.1,"v":28.25},{"s":"R","t":6.2,"v":28.3},{"s":"R","t":6.3,"v":28.2},{"s":"R","t":6.4,"v":28.25},{"s":"R","t":6.5,"v":28.3},{"s":"R","t":6.6,"v":28.2},{"s":"R","t":6.7,"v":28.15},{"s":"R","t":6.8,"v":28.2},{"s":"R","t":6.9,"v":28.25},{"s":"R","t":7,"v":28.2},
{"s":"R","t":0.05,"v":23.05},{"s":"R","t":0.15,"v":23.4},{"s":"R","t":0.25,"v":23.75},{"s":"R","t":0.55,"v":24.15},{"s":"R","t":0.65,"v":24.45},{"s":"R","t":0.75,"v":24.7}
]
},
"columns": 2,
"spacing": {"row": 21, "column": 16},
"concat": [
{
 "width": 386, "height": 342,
 "encoding": {
  "x": {"field": "t", "type": "quantitative", "scale": {"domain": [0, 7], "nice": false}, "axis": {"values": [0,1,2,3,4,5,6,7], "title": "経過時間 t (h)"}},
  "y": {"field": "v", "type": "quantitative", "scale": {"domain": [20, 40], "nice": false, "zero": false}, "axis": {"values": [20,25,30,35,40], "title": "温度 (℃)"}}
 },
 "layer": [
  {"data": {"name": "p1"}, "mark": {"type": "point", "filled": true, "size": 75, "opacity": 1},
   "encoding": {"color": {"field": "s", "type": "nominal", "scale": {"domain": ["L","C","R"], "range": ["#e8141a","#1414d2","#1e6e1e"]}, "legend": null},
                "shape": {"field": "s", "type": "nominal", "scale": {"domain": ["L","C","R"], "range": ["circle","square","diamond"]}, "legend": null}}},
  {"data": {"values": [{"t": 3.46, "v": 33.6, "v2": 37.5}]}, "mark": {"type": "rule", "color": "#e8141a", "strokeWidth": 3}, "encoding": {"y2": {"field": "v2"}}},
  {"data": {"values": [{"t": 3.49, "v": 35.5, "t2": 4.63, "v2": 28.99}]}, "mark": {"type": "rule", "color": "#e8141a", "strokeWidth": 1.5}, "encoding": {"x2": {"field": "t2"}, "y2": {"field": "v2"}}},
  {"data": {"values": [{"t": 3.46, "v": 37.4}]}, "mark": {"type": "point", "shape": "triangle-up", "filled": true, "opacity": 1, "color": "#e8141a", "size": 110}, "encoding": {}},
  {"data": {"values": [{"t": 3.46, "v": 33.7}]}, "mark": {"type": "point", "shape": "triangle-down", "filled": true, "opacity": 1, "color": "#e8141a", "size": 110}, "encoding": {}},
  {"data": {"values": [{"t": 2.34, "t2": 6.93, "v": 25.13, "v2": 28.99}]}, "mark": {"type": "rect", "fill": "white", "stroke": "#e8141a", "strokeWidth": 2.5}, "encoding": {"x2": {"field": "t2"}, "y2": {"field": "v2"}}},
  {"data": {"values": [{"t": 4.63, "v": 28.11, "label": "左端，右端の温度>中央の温度"}, {"t": 4.63, "v": 27.04, "label": "⇒側面(ステンレス)の熱の影響"}]}, "mark": {"type": "text", "font": "Noto Sans CJK JP", "fontSize": 15, "fontWeight": "bold", "color": "#e8141a", "align": "center"}, "encoding": {"text": {"field": "label"}}},
  {"data": {"values": [{"t": 4.63, "v": 25.86, "label": "下端から30mmが特に顕著"}]}, "mark": {"type": "text", "font": "Noto Sans CJK JP", "fontSize": 15, "fontWeight": "bold", "color": "#111", "align": "center"}, "encoding": {"text": {"field": "label"}}},
  {"data": {"values": [{"t": 2.95, "t2": 6.3, "v": 25.42}]}, "mark": {"type": "rule", "color": "#333", "strokeWidth": 1}, "encoding": {"x2": {"field": "t2"}}},
  {"data": {"values": [{"t": 2.91, "t2": 6.81, "v": 20.74, "v2": 24.09}]}, "mark": {"type": "rect", "fill": "white", "stroke": "#333", "strokeWidth": 1.5}, "encoding": {"x2": {"field": "t2"}, "y2": {"field": "v2"}}},
  {"data": {"values": [{"s": "L", "t": 3.4, "v": 23.27}, {"s": "C", "t": 3.4, "v": 22.39}, {"s": "R", "t": 3.4, "v": 21.5}]}, "mark": {"type": "point", "filled": false, "size": 22, "strokeWidth": 1.3, "opacity": 1},
   "encoding": {"color": {"field": "s", "type": "nominal", "legend": null}, "shape": {"field": "s", "type": "nominal", "legend": null}}},
  {"data": {"values": [{"s": "L", "t": 3.64, "v": 23.27, "label": "左端(容器の下端から 30 mm)"}, {"s": "C", "t": 3.64, "v": 22.39, "label": "中央(容器の下端から 30 mm)"}, {"s": "R", "t": 3.64, "v": 21.5, "label": "右端(容器の下端から 30 mm)"}]}, "mark": {"type": "text", "font": "Liberation Serif", "fontSize": 12.5, "align": "left"},
   "encoding": {"text": {"field": "label"}, "color": {"field": "s", "type": "nominal", "legend": null}}}
 ]
},
{
 "width": 386, "height": 342,
 "encoding": {
  "x": {"field": "t", "type": "quantitative", "scale": {"domain": [0, 7], "nice": false}, "axis": {"values": [0,1,2,3,4,5,6,7], "title": "経過時間 t (h)"}},
  "y": {"field": "v", "type": "quantitative", "scale": {"domain": [20, 36], "nice": false, "zero": false}, "axis": {"values": [20,22,24,26,28,30,32,34,36], "title": "温度 (℃)"}}
 },
 "layer": [
  {"data": {"name": "p2"}, "mark": {"type": "point", "filled": true, "size": 75, "opacity": 1},
   "encoding": {"color": {"field": "s", "type": "nominal", "scale": {"domain": ["L","C","R"], "range": ["#e8141a","#1414d2","#1e6e1e"]}, "legend": null},
                "shape": {"field": "s", "type": "nominal", "scale": {"domain": ["L","C","R"], "range": ["circle","square","diamond"]}, "legend": null}}},
  {"data": {"values": [{"t": 3.22, "v": 31.5, "v2": 32.85}]}, "mark": {"type": "rule", "color": "#e8141a", "strokeWidth": 2.5}, "encoding": {"y2": {"field": "v2"}}},
  {"data": {"values": [{"t": 3.25, "v": 32.2, "t2": 4.73, "v2": 28.27}]}, "mark": {"type": "rule", "color": "#e8141a", "strokeWidth": 1.5}, "encoding": {"x2": {"field": "t2"}, "y2": {"field": "v2"}}},
  {"data": {"values": [{"t": 3.22, "v": 32.7}]}, "mark": {"type": "point", "shape": "triangle-up", "filled": true, "opacity": 1, "color": "#e8141a", "size": 70}, "encoding": {}},
  {"data": {"values": [{"t": 3.22, "v": 31.65}]}, "mark": {"type": "point", "shape": "triangle-down", "filled": true, "opacity": 1, "color": "#e8141a", "size": 70}, "encoding": {}},
  {"data": {"values": [{"t": 2.35, "t2": 6.94, "v": 26.05, "v2": 28.27}]}, "mark": {"type": "rect", "fill": "white", "stroke": "#e8141a", "strokeWidth": 2.5}, "encoding": {"x2": {"field": "t2"}, "y2": {"field": "v2"}}},
  {"data": {"values": [{"t": 4.63, "v": 27.65, "label": "左端，右端の温度>中央の温度"}, {"t": 4.63, "v": 26.78, "label": "⇒側面(ステンレス)の熱の影響"}]}, "mark": {"type": "text", "font": "Noto Sans CJK JP", "fontSize": 15, "fontWeight": "bold", "color": "#e8141a", "align": "center"}, "encoding": {"text": {"field": "label"}}},
  {"data": {"values": [{"t": 2.76, "t2": 6.67, "v": 20.67, "v2": 23.37}]}, "mark": {"type": "rect", "fill": "white", "stroke": "#333", "strokeWidth": 1.5}, "encoding": {"x2": {"field": "t2"}, "y2": {"field": "v2"}}},
  {"data": {"values": [{"s": "L", "t": 3.25, "v": 22.74}, {"s": "C", "t": 3.25, "v": 22.0}, {"s": "R", "t": 3.25, "v": 21.3}]}, "mark": {"type": "point", "filled": false, "size": 22, "strokeWidth": 1.3, "opacity": 1},
   "encoding": {"color": {"field": "s", "type": "nominal", "legend": null}, "shape": {"field": "s", "type": "nominal", "legend": null}}},
  {"data": {"values": [{"s": "L", "t": 3.52, "v": 22.74, "label": "左端(容器の下端から 60 mm)"}, {"s": "C", "t": 3.52, "v": 22.0, "label": "中央(容器の下端から 60 mm)"}, {"s": "R", "t": 3.52, "v": 21.3, "label": "右端(容器の下端から 60 mm)"}]}, "mark": {"type": "text", "font": "Liberation Serif", "fontSize": 12.5, "align": "left"},
   "encoding": {"text": {"field": "label"}, "color": {"field": "s", "type": "nominal", "legend": null}}}
 ]
},
{
 "width": 386, "height": 345,
 "encoding": {
  "x": {"field": "t", "type": "quantitative", "scale": {"domain": [0, 7], "nice": false}, "axis": {"values": [0,1,2,3,4,5,6,7], "title": "経過時間 t (h)"}},
  "y": {"field": "v", "type": "quantitative", "scale": {"domain": [22, 32], "nice": false, "zero": false}, "axis": {"values": [22,24,26,28,30,32], "title": "温度 (℃)"}}
 },
 "layer": [
  {"data": {"name": "p3"}, "mark": {"type": "point", "filled": true, "size": 75, "opacity": 1},
   "encoding": {"color": {"field": "s", "type": "nominal", "scale": {"domain": ["L","C","R"], "range": ["#e8141a","#1414d2","#1e6e1e"]}, "legend": null},
                "shape": {"field": "s", "type": "nominal", "scale": {"domain": ["L","C","R"], "range": ["circle","square","diamond"]}, "legend": null}}},
  {"data": {"values": [{"t": 1.13, "v": 24.65, "v2": 25.8}]}, "mark": {"type": "rule", "color": "#e8141a", "strokeWidth": 2.5}, "encoding": {"y2": {"field": "v2"}}},
  {"data": {"values": [{"t": 1.16, "v": 25.35, "t2": 2.33, "v2": 25.83}]}, "mark": {"type": "rule", "color": "#e8141a", "strokeWidth": 1.5}, "encoding": {"x2": {"field": "t2"}, "y2": {"field": "v2"}}},
  {"data": {"values": [{"t": 1.13, "v": 25.72}]}, "mark": {"type": "point", "shape": "triangle-up", "filled": true, "opacity": 1, "color": "#e8141a", "size": 80}, "encoding": {}},
  {"data": {"values": [{"t": 1.13, "v": 24.72}]}, "mark": {"type": "point", "shape": "triangle-down", "filled": true, "opacity": 1, "color": "#e8141a", "size": 80}, "encoding": {}},
  {"data": {"values": [{"t": 2.33, "t2": 7.07, "v": 25.25, "v2": 26.69}]}, "mark": {"type": "rect", "fill": "white", "stroke": "#e8141a", "strokeWidth": 2.5}, "encoding": {"x2": {"field": "t2"}, "y2": {"field": "v2"}}},
  {"data": {"values": [{"t": 4.71, "v": 26.22, "label": "左端，右端の温度>中央の温度"}, {"t": 4.71, "v": 25.68, "label": "⇒側面(ステンレス)の熱の影響"}]}, "mark": {"type": "text", "font": "Noto Sans CJK JP", "fontSize": 15, "fontWeight": "bold", "color": "#e8141a", "align": "center"}, "encoding": {"text": {"field": "label"}}},
  {"data": {"values": [{"t": 2.98, "t2": 6.89, "v": 22.4, "v2": 24.1}]}, "mark": {"type": "rect", "fill": "white", "stroke": "#333", "strokeWidth": 1.5}, "encoding": {"x2": {"field": "t2"}, "y2": {"field": "v2"}}},
  {"data": {"values": [{"s": "L", "t": 3.46, "v": 23.7}, {"s": "C", "t": 3.46, "v": 23.24}, {"s": "R", "t": 3.46, "v": 22.81}]}, "mark": {"type": "point", "filled": false, "size": 22, "strokeWidth": 1.3, "opacity": 1},
   "encoding": {"color": {"field": "s", "type": "nominal", "legend": null}, "shape": {"field": "s", "type": "nominal", "legend": null}}},
  {"data": {"values": [{"s": "L", "t": 3.85, "v": 23.7, "label": "左端(容器の下端から 90 mm)"}, {"s": "C", "t": 3.85, "v": 23.24, "label": "中央(容器の下端から 90 mm)"}, {"s": "R", "t": 3.85, "v": 22.81, "label": "右端(容器の下端から 90 mm)"}]}, "mark": {"type": "text", "font": "Liberation Serif", "fontSize": 12.5, "align": "left"},
   "encoding": {"text": {"field": "label"}, "color": {"field": "s", "type": "nominal", "legend": null}}}
 ]
},
{
 "width": 386, "height": 345,
 "encoding": {
  "x": {"field": "t", "type": "quantitative", "scale": {"domain": [0, 7], "nice": false}, "axis": {"values": [0,1,2,3,4,5,6,7], "title": "経過時間 t (h)"}},
  "y": {"field": "v", "type": "quantitative", "scale": {"domain": [22, 29], "nice": false, "zero": false}, "axis": {"values": [22,23,24,25,26,27,28,29], "title": "温度 (℃)"}}
 },
 "layer": [
  {"data": {"name": "p4"}, "mark": {"type": "point", "filled": true, "size": 75, "opacity": 1},
   "encoding": {"color": {"field": "s", "type": "nominal", "scale": {"domain": ["L","C","R"], "range": ["#e8141a","#1414d2","#1e6e1e"]}, "legend": null},
                "shape": {"field": "s", "type": "nominal", "scale": {"domain": ["L","C","R"], "range": ["circle","square","diamond"]}, "legend": null}}},
  {"data": {"values": [{"t": 2.53, "t2": 6.66, "v": 24.37, "v2": 25.37}]}, "mark": {"type": "rect", "fill": "white", "stroke": "#111", "strokeWidth": 2.5}, "encoding": {"x2": {"field": "t2"}, "y2": {"field": "v2"}}},
  {"data": {"values": [{"t": 4.6, "v": 25.08, "label": "左端，中央，右端で"}, {"t": 4.6, "v": 24.65, "label": "大きな差はみられなかった"}]}, "mark": {"type": "text", "font": "Noto Sans CJK JP", "fontSize": 15, "fontWeight": "bold", "color": "#111", "align": "center"}, "encoding": {"text": {"field": "label"}}},
  {"data": {"values": [{"t": 2.86, "t2": 6.87, "v": 22.25, "v2": 23.41}]}, "mark": {"type": "rect", "fill": "white", "stroke": "#333", "strokeWidth": 1.5}, "encoding": {"x2": {"field": "t2"}, "y2": {"field": "v2"}}},
  {"data": {"values": [{"s": "L", "t": 3.34, "v": 23.12}, {"s": "C", "t": 3.34, "v": 22.81}, {"s": "R", "t": 3.34, "v": 22.5}]}, "mark": {"type": "point", "filled": false, "size": 22, "strokeWidth": 1.3, "opacity": 1},
   "encoding": {"color": {"field": "s", "type": "nominal", "legend": null}, "shape": {"field": "s", "type": "nominal", "legend": null}}},
  {"data": {"values": [{"s": "L", "t": 3.72, "v": 23.12, "label": "左端(容器の下端から 120 mm)"}, {"s": "C", "t": 3.72, "v": 22.81, "label": "中央(容器の下端から 120 mm)"}, {"s": "R", "t": 3.72, "v": 22.5, "label": "右端(容器の下端から 120 mm)"}]}, "mark": {"type": "text", "font": "Liberation Serif", "fontSize": 12.5, "align": "left"},
   "encoding": {"text": {"field": "label"}, "color": {"field": "s", "type": "nominal", "legend": null}}}
 ]
}
]
}
